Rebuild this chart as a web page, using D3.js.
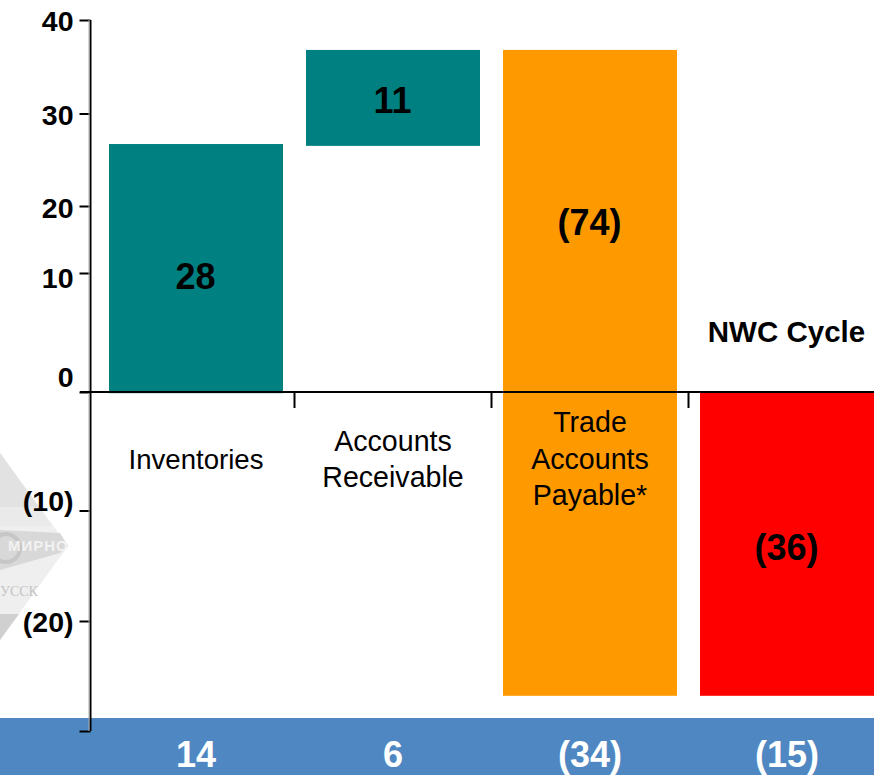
<!DOCTYPE html>
<html><head><meta charset="utf-8">
<script src="https://cdn.jsdelivr.net/npm/d3@7"></script>
<style>html,body{margin:0;padding:0;background:#fff}svg{display:block}text{font-family:"Liberation Sans",Arial,sans-serif}</style>
</head><body>
<svg id="c" width="874" height="775"></svg>
<script>
const categories = ["Inventories","Accounts Receivable","Trade Accounts Payable*","NWC Cycle"];
const categoryLines = [["Inventories"],["Accounts","Receivable"],["Trade","Accounts","Payable*"],[]];
const barTop = [26.7, 36.8, 36.8, 0];
const barBottom = [-0.1, 26.5, -26.8, -26.8];
const barLabels = ["28","11","(74)","(36)"];
const barColors = ["#008080","#008080","#ff9900","#ff0000"];
const totals = ["14","6","(34)","(15)"];
const tickValues = [40,30,20,10,0,-10,-20,-30];
const tickLabels = ["40","30","20","10","0","(10)","(20)",""];
const tickPixels = [20,113.5,206,273,392,510.5,621,731];

const svg = d3.select("#c");
// axis ticks are unevenly spaced in the source, hence a piecewise scale
const y = d3.scaleLinear().domain(tickValues).range(tickPixels);
const x = d3.scaleBand().domain(categories).range([109,874]).paddingInner(23/197).paddingOuter(0);
const step = x.step(), bw = x.bandwidth();

// watermark
const wm = svg.append("g");
wm.append("path").attr("d","M0 453 L68 546 L0 640 Z").attr("fill","#efefef");
wm.append("path").attr("d","M0 453 L39 507 L0 507 Z").attr("fill","#e2e2e2");
wm.append("path").attr("d","M0 507 L39 507 L52 526 L0 526 Z").attr("fill","#eaeaea");
wm.append("path").attr("d","M0 614 L19 614 L0 640 Z").attr("fill","#d0d0d0");
wm.append("path").attr("d","M0 530 L60 533 L68 546 L60 553 L0 570 Z").attr("fill","#d8d8d8");
wm.append("circle").attr("cx",6).attr("cy",548).attr("r",14).attr("fill","none").attr("stroke","#c6c6c6").attr("stroke-width",4);
wm.append("text").attr("x",8).attr("y",551).attr("font-size",15).attr("font-weight","bold").attr("fill","#f2f2f2").attr("letter-spacing",1).text("МИРНО");
wm.append("text").attr("x",0).attr("y",596).attr("font-size",14).style("font-family","'Liberation Serif'").attr("fill","#c4c4c4").text("УССК");

// bottom strip
svg.append("rect").attr("x",0).attr("y",718).attr("width",874).attr("height",57).attr("fill","#4f87c2");

// bars
svg.selectAll("rect.bar").data(categories).join("rect").attr("class","bar")
  .attr("x",d=>x(d)).attr("width",bw)
  .attr("y",(d,i)=>y(barTop[i]))
  .attr("height",(d,i)=>y(barBottom[i])-y(barTop[i]))
  .attr("fill",(d,i)=>barColors[i]);

// y axis
const labelShift = [10,10.5,11,14,-6,-0.5,10,0];
const axis = d3.axisLeft(y).tickValues(tickValues).tickSize(11).tickPadding(6)
  .tickFormat((d,i)=>tickLabels[i]);
const ag = svg.append("g").attr("transform","translate(90.5,0)").call(axis);
ag.select(".domain").attr("stroke","#000").attr("stroke-width",2).attr("d",`M0,${y(40)}V${y(-30)}`);
ag.selectAll(".tick line").attr("stroke","#000").attr("stroke-width",2);
ag.selectAll(".tick text").attr("font-size",28.5).attr("font-weight","bold").attr("fill","#000")
  .attr("dy",0).attr("y",(d,i)=>labelShift[i]);
svg.append("line").attr("x1",89).attr("x2",89).attr("y1",y(40)).attr("y2",y(-30)).attr("stroke","#aaa").attr("stroke-width",1);

// x axis at zero
svg.append("line").attr("x1",80).attr("x2",874).attr("y1",y(0)).attr("y2",y(0)).attr("stroke","#000").attr("stroke-width",2);
svg.selectAll("line.xt").data(categories.slice(0,3)).join("line").attr("class","xt")
  .attr("x1",d=>x(d)+bw+(step-bw)/2).attr("x2",d=>x(d)+bw+(step-bw)/2)
  .attr("y1",y(0)).attr("y2",y(0)+16).attr("stroke","#000").attr("stroke-width",2);

// category labels
const labelFirst = [469,451,432];
const labelSize = [27.6,28.6,28.6];
const labelLead = [36,36,36.5];
categoryLines.slice(0,3).forEach((lines,i)=>{
  svg.selectAll(null).data(lines).join("text")
    .attr("x",x(categories[i])+bw/2)
    .attr("y",(d,j)=>labelFirst[i]+j*labelLead[i])
    .attr("text-anchor","middle").attr("font-size",labelSize[i]).attr("fill","#000").text(d=>d);
});

// bar value labels
const labelY = [289,113,235,560];
svg.selectAll("text.val").data(categories).join("text").attr("class","val")
  .attr("x",d=>x(d)+bw/2-0.5).attr("y",(d,i)=>labelY[i])
  .attr("text-anchor","middle").attr("font-size",36).attr("font-weight","bold").attr("fill","#000")
  .text((d,i)=>barLabels[i]);

svg.append("text").attr("x",786.5).attr("y",342).attr("text-anchor","middle")
  .attr("font-size",29.5).attr("font-weight","bold").attr("fill","#000").text(categories[3]);

// totals
svg.selectAll("text.tot").data(categories).join("text").attr("class","tot")
  .attr("x",d=>x(d)+bw/2).attr("y",767)
  .attr("text-anchor","middle").attr("font-size",36).attr("font-weight","bold").attr("fill","#fff")
  .text((d,i)=>totals[i]);
</script>
</body></html>
